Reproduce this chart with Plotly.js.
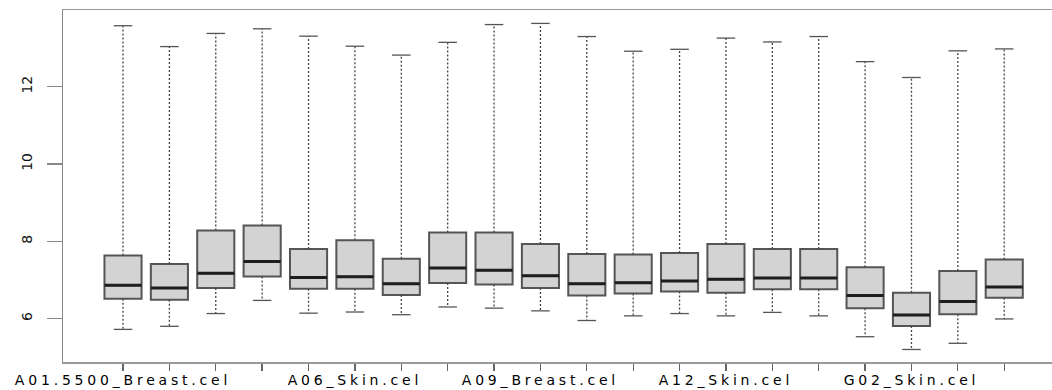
<!DOCTYPE html>
<html>
<head>
<meta charset="utf-8">
<script src="https://cdn.plot.ly/plotly-3.0.1.min.js"></script>
<style>
  html, body { margin: 0; padding: 0; background: #ffffff; overflow: hidden; }
  #chart { width: 1052px; height: 390px; }
  .xtick text { letter-spacing: 3.8px; }
</style>
</head>
<body>
<div id="chart"></div>
<script>
// Sample positions 1..20; only the labels R could fit are drawn
const positions = [1,2,3,4,5,6,7,8,9,10,11,12,13,14,15,16,17,18,19,20];
const tickLabels = ["A01.5500_Breast.cel","","","","","A06_Skin.cel","","","","A09_Breast.cel",
                    "","","","A12_Skin.cel","","","","G02_Skin.cel","",""];

const lowerWhisker = [5.72,5.80,6.13,6.47,6.14,6.17,6.10,6.30,6.27,6.20,5.95,6.07,6.13,6.07,6.16,6.07,5.53,5.20,5.36,5.99];
const q1Values     = [6.51,6.49,6.79,7.09,6.77,6.77,6.61,6.92,6.88,6.79,6.60,6.65,6.70,6.67,6.76,6.76,6.27,5.81,6.11,6.54];
const medians      = [6.86,6.79,7.17,7.48,7.06,7.08,6.90,7.31,7.25,7.11,6.90,6.93,6.97,7.02,7.05,7.05,6.60,6.09,6.44,6.82];
const q3Values     = [7.63,7.41,8.28,8.41,7.80,8.03,7.55,8.23,8.23,7.93,7.67,7.66,7.70,7.93,7.80,7.80,7.33,6.67,7.23,7.53];
const upperWhisker = [13.58,13.04,13.38,13.50,13.31,13.05,12.82,13.15,13.61,13.64,13.30,12.92,12.97,13.26,13.16,13.30,12.65,12.24,12.93,12.98];

const boxWidth = 0.8;
const capHalf = boxWidth * 0.25;
const medHalf = boxWidth * 0.5;

const wx = [], wy = [];
const cx = [], cy = [];
const mx = [], my = [];
positions.forEach((p, i) => {
  wx.push(p, p, null, p, p, null);
  wy.push(q3Values[i], upperWhisker[i], null, q1Values[i], lowerWhisker[i], null);
  cx.push(p - capHalf, p + capHalf, null, p - capHalf, p + capHalf, null);
  cy.push(upperWhisker[i], upperWhisker[i], null, lowerWhisker[i], lowerWhisker[i], null);
  mx.push(p - medHalf, p + medHalf, null);
  my.push(medians[i], medians[i], null);
});

const traces = [
  {
    type: 'scatter', mode: 'lines', x: wx, y: wy, hoverinfo: 'skip',
    line: { color: '#444444', width: 1.3, dash: '2px,2px' }, showlegend: false
  },
  {
    type: 'scatter', mode: 'lines', x: cx, y: cy, hoverinfo: 'skip',
    line: { color: '#555555', width: 1.3 }, showlegend: false
  },
  {
    type: 'box', x: positions,
    q1: q1Values, median: medians, q3: q3Values,
    lowerfence: q1Values, upperfence: q3Values,
    width: boxWidth, whiskerwidth: 0,
    fillcolor: '#d3d3d3',
    line: { color: '#555555', width: 2 },
    showlegend: false, hoverinfo: 'skip'
  },
  {
    type: 'scatter', mode: 'lines', x: mx, y: my, hoverinfo: 'skip',
    line: { color: '#1e1e1e', width: 3 }, showlegend: false
  }
];

const layout = {
  width: 1052, height: 390,
  margin: { l: 63, r: 0, t: 10, b: 28, pad: 0 },
  paper_bgcolor: '#ffffff', plot_bgcolor: '#ffffff',
  showlegend: false,
  xaxis: {
    range: [-0.294, 21.03],
    tickmode: 'array', tickvals: positions, ticktext: tickLabels,
    ticks: 'outside', ticklen: 7, tickcolor: '#666666', tickwidth: 1.3,
    showline: true, linecolor: '#999999', linewidth: 1.5, mirror: true,
    showgrid: false, zeroline: false, tickangle: 0,
    ticklabelstandoff: -2,
    tickfont: { family: 'DejaVu Sans, sans-serif', size: 14, color: '#000000' }
  },
  yaxis: {
    range: [4.876, 13.987],
    tickmode: 'array', tickvals: [6, 8, 10, 12],
    ticks: 'outside', ticklen: 15, tickcolor: '#888888', tickwidth: 1.3,
    showline: true, linecolor: '#888888', linewidth: 1.5, mirror: false,
    showgrid: false, zeroline: false, tickangle: -90,
    ticklabelstandoff: 9,
    tickfont: { family: 'DejaVu Sans, sans-serif', size: 14, color: '#111111' }
  }
};

Plotly.newPlot('chart', traces, layout, { staticPlot: true, displayModeBar: false });
</script>
</body>
</html>
